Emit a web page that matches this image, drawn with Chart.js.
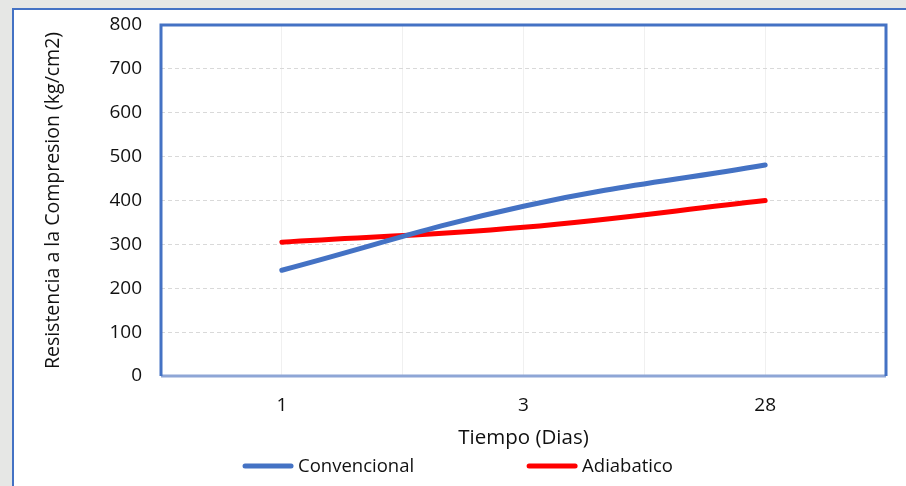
<!DOCTYPE html>
<html>
<head>
<meta charset="utf-8">
<script src="https://cdn.jsdelivr.net/npm/chart.js@4.4.1/dist/chart.umd.min.js"></script>
<style>
  html, body { margin: 0; padding: 0; background: #e6e7e5; }
  #wrap { width: 906px; height: 486px; position: relative; }
  canvas { display: block; }
</style>
</head>
<body>
<div id="wrap"><canvas id="c" width="906" height="486"></canvas></div>
<script>
// Edad del ensayo (días)
const categories = ['1', '3', '28'];
// Resistencia a la compresión (kg/cm2)
const convencional = [241, 387, 481];
const adiabatico = [305, 339, 400];
// Marcas del eje Y
const yTicks = [0, 100, 200, 300, 400, 500, 600, 700, 800];

const FONT = "'Open Sans', 'DejaVu Sans', sans-serif";
const BLUE = '#4472C4';
const RED = '#FF0000';

function points(values) {
  return values.map((v, i) => ({ x: i, y: v }));
}

// Fondo blanco enmarcado y borde del área de trazado
const framePlugin = {
  id: 'frame',
  beforeDraw(chart) {
    const ctx = chart.ctx;
    ctx.save();
    ctx.fillStyle = '#e6e7e5';
    ctx.fillRect(0, 0, chart.width, chart.height);
    ctx.fillStyle = '#ffffff';
    ctx.fillRect(12, 9, chart.width - 12, chart.height - 9);
    ctx.strokeStyle = BLUE;
    ctx.lineWidth = 2;
    ctx.beginPath();
    ctx.moveTo(13, chart.height);
    ctx.lineTo(13, 9);
    ctx.lineTo(chart.width, 9);
    ctx.stroke();
    ctx.restore();
  },
  afterDatasetsDraw(chart) {
    const { ctx, chartArea: a } = chart;
    ctx.save();
    ctx.lineWidth = 3;
    ctx.strokeStyle = '#8EA6D6';
    ctx.beginPath();
    ctx.moveTo(a.left, a.bottom);
    ctx.lineTo(a.right, a.bottom);
    ctx.stroke();
    ctx.strokeStyle = BLUE;
    ctx.beginPath();
    ctx.moveTo(a.left, a.bottom);
    ctx.lineTo(a.left, a.top);
    ctx.lineTo(a.right, a.top);
    ctx.lineTo(a.right, a.bottom);
    ctx.stroke();
    ctx.restore();
  }
};

// Leyenda inferior con muestras de línea
const legendPlugin = {
  id: 'lineLegend',
  afterDraw(chart) {
    const ctx = chart.ctx;
    const sets = chart.data.datasets;
    const swatch = 50, textGap = 5, itemGap = 113;
    ctx.save();
    ctx.font = '18.5px ' + FONT;
    ctx.textBaseline = 'middle';
    const widths = sets.map(d => swatch + textGap + ctx.measureText(d.label).width);
    const total = widths.reduce((s, w) => s + w, 0) + itemGap * (sets.length - 1);
    let x = chart.width / 2 - total / 2 + 5;
    const y = 466;
    sets.forEach((d, i) => {
      ctx.strokeStyle = d.borderColor;
      ctx.lineWidth = 5;
      ctx.lineCap = 'round';
      ctx.beginPath();
      ctx.moveTo(x + 2, y);
      ctx.lineTo(x + swatch - 2, y);
      ctx.stroke();
      ctx.fillStyle = '#111111';
      ctx.fillText(d.label, x + swatch + textGap, y + 1);
      x += widths[i] + itemGap;
    });
    ctx.restore();
  }
};

new Chart(document.getElementById('c'), {
  type: 'line',
  data: {
    datasets: [
      { label: 'Convencional', data: points(convencional), borderColor: BLUE, backgroundColor: BLUE },
      { label: 'Adiabatico', data: points(adiabatico), borderColor: RED, backgroundColor: RED }
    ]
  },
  options: {
    responsive: false,
    animation: false,
    layout: { padding: { left: 0, top: 25, right: 20, bottom: 36 } },
    elements: {
      line: { borderWidth: 5, tension: 0.4, borderCapStyle: 'round', borderJoinStyle: 'round' },
      point: { radius: 0, hoverRadius: 0 }
    },
    plugins: { legend: { display: false }, tooltip: { enabled: false } },
    scales: {
      x: {
        type: 'linear',
        min: -0.5,
        max: categories.length - 0.5,
        afterBuildTicks(scale) {
          const t = [];
          for (let v = -0.5; v <= categories.length - 0.5 + 1e-9; v += 0.5) t.push({ value: v });
          scale.ticks = t;
        },
        afterFit(scale) { scale.height = 74; },
        grid: { color: '#f0f0f0', lineWidth: 1, drawTicks: false },
        border: { display: false },
        ticks: {
          padding: 18,
          maxRotation: 0,
          autoSkip: false,
          color: '#111111',
          font: { family: FONT, size: 19 },
          callback: v => (Number.isInteger(v) ? categories[v] : '')
        },
        title: {
          display: true,
          text: 'Tiempo (Dias)',
          color: '#111111',
          font: { family: FONT, size: 20.5 },
          padding: { top: 4, bottom: 0 }
        }
      },
      y: {
        min: 0,
        max: 800,
        afterBuildTicks(scale) { scale.ticks = yTicks.map(v => ({ value: v })); },
        afterFit(scale) {
          scale.width = 161;
          scale.paddingTop = 0;
          scale.paddingBottom = 0;
        },
        grid: { color: '#d9d9d9', lineWidth: 1, drawTicks: false },
        border: { display: false, dash: [4, 3] },
        ticks: {
          padding: 19,
          color: '#111111',
          font: { family: FONT, size: 19 }
        },
        title: {
          display: true,
          text: 'Resistencia a la Compresion (kg/cm2)',
          color: '#111111',
          font: { family: FONT, size: 19.5 },
          padding: { top: 42, bottom: 0 }
        }
      }
    }
  },
  plugins: [framePlugin, legendPlugin]
});
</script>
</body>
</html>
